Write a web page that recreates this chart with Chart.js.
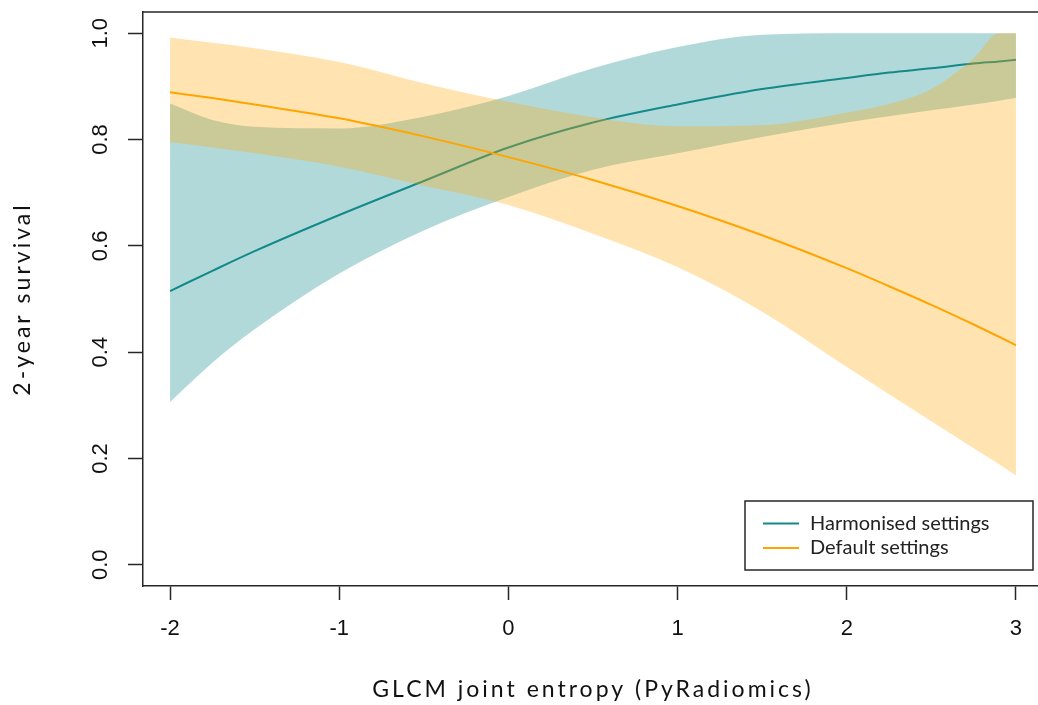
<!DOCTYPE html>
<html>
<head>
<meta charset="utf-8">
<script src="https://cdn.jsdelivr.net/npm/chart.js@4.4.1/dist/chart.umd.min.js"></script>
<style>
  html, body { margin: 0; padding: 0; background: #fff; overflow: hidden; }
  #wrap { width: 1050px; height: 705px; }
</style>
</head>
<body>
<div id="wrap"><canvas id="myChart" width="1050" height="705"></canvas></div>
<script>
// valores
const xs = [-2, -1.75, -1.5, -1, -0.5, 0, 0.5, 1, 1.5, 2, 2.25, 2.5, 2.75, 2.9, 3];

const harmMedia = [0.515, 0.553, 0.590, 0.658, 0.722, 0.785, 0.832, 0.866, 0.895, 0.916, 0.926, 0.934, 0.943, 0.947, 0.950];
const harmBajo  = [0.306, 0.380, 0.443, 0.548, 0.629, 0.692, 0.743, 0.774, 0.805, 0.832, 0.844, 0.855, 0.866, 0.873, 0.878];
const harmAlto  = [0.868, 0.837, 0.824, 0.821, 0.843, 0.882, 0.934, 0.974, 0.997, 1.0, 1.0, 1.0, 1.0, 1.0, 1.0];

const defMedia = [0.889, 0.878, 0.866, 0.840, 0.806, 0.767, 0.724, 0.675, 0.620, 0.558, 0.524, 0.489, 0.452, 0.429, 0.413];
const defBajo  = [0.795, 0.785, 0.774, 0.749, 0.713, 0.677, 0.623, 0.560, 0.476, 0.372, 0.321, 0.270, 0.219, 0.189, 0.168];
const defAlto  = [0.992, 0.982, 0.972, 0.946, 0.906, 0.871, 0.842, 0.825, 0.827, 0.851, 0.867, 0.895, 0.953, 1.0, 1.0];

const xTicks = [-2, -1, 0, 1, 2, 3];
const yTicks = [0, 0.2, 0.4, 0.6, 0.8, 1.0];
const etiquetas = ['Harmonised settings', 'Default settings'];

const colorTeal = '#138a8a';
const colorNaranja = '#ffa500';
const bandaTeal = 'rgba(0, 128, 128, 0.3)';
const bandaNaranja = 'rgba(255, 165, 0, 0.3)';
const colorMarco = '#262626';

function puntos(ys) {
    return xs.map((x, i) => ({ x: x, y: ys[i] }));
}

// los titulos del original salen estirados, se imita con letterSpacing
function espaciarTitulo(s) {
    if (s._espaciado) return;
    const orig = s.drawTitle;
    s.drawTitle = function () {
        this.ctx.save();
        this.ctx.letterSpacing = '3px';
        orig.call(this);
        this.ctx.restore();
    };
    s._espaciado = true;
}

// marco superior + leyenda estilo R
const marcoYLeyenda = {
    id: 'marcoYLeyenda',
    afterDraw(chart) {
        const ctx = chart.ctx;
        const area = chart.chartArea;
        ctx.save();
        ctx.strokeStyle = colorMarco;
        ctx.lineWidth = 1.5;
        ctx.beginPath();
        ctx.moveTo(area.left, area.top);
        ctx.lineTo(area.right, area.top);
        ctx.stroke();

        // leyenda
        const lx = 745, ly = 501, lw = 288, lh = 69;
        ctx.fillStyle = '#fff';
        ctx.fillRect(lx, ly, lw, lh);
        ctx.lineWidth = 1.5;
        ctx.strokeRect(lx, ly, lw, lh);
        const lineas = [chart.data.datasets[2], chart.data.datasets[5]];
        ctx.font = '20px Lato';
        ctx.textBaseline = 'middle';
        ctx.textAlign = 'left';
        for (let i = 0; i < lineas.length; i++) {
            const y = ly + 22.5 + i * 24.5;
            ctx.strokeStyle = lineas[i].borderColor;
            ctx.lineWidth = 2;
            ctx.beginPath();
            ctx.moveTo(763, y);
            ctx.lineTo(799, y);
            ctx.stroke();
            ctx.fillStyle = '#222';
            ctx.fillText(lineas[i].label, 810, y);
        }
        ctx.restore();
    }
};

const ctx = document.getElementById('myChart').getContext('2d');
const chart = new Chart(ctx, {
    type: 'line',
    data: {
        datasets: [{
            label: 'harm alto',
            data: puntos(harmAlto),
            borderColor: 'transparent',
            borderWidth: 0,
            backgroundColor: bandaTeal,
            fill: '+1',
            order: 5
        }, {
            label: 'harm bajo',
            data: puntos(harmBajo),
            borderColor: 'transparent',
            borderWidth: 0,
            fill: false,
            order: 4
        }, {
            label: etiquetas[0],
            data: puntos(harmMedia),
            borderColor: colorTeal,
            borderWidth: 2,
            fill: false,
            order: 3
        }, {
            label: 'def alto',
            data: puntos(defAlto),
            borderColor: 'transparent',
            borderWidth: 0,
            backgroundColor: bandaNaranja,
            fill: '+1',
            order: 2
        }, {
            label: 'def bajo',
            data: puntos(defBajo),
            borderColor: 'transparent',
            borderWidth: 0,
            fill: false,
            order: 1
        }, {
            label: etiquetas[1],
            data: puntos(defMedia),
            borderColor: colorNaranja,
            borderWidth: 2,
            fill: false,
            order: 0
        }]
    },
    options: {
        responsive: false,
        animation: false,
        layout: { padding: { top: 12, right: 7, left: 0, bottom: 0 } },
        elements: {
            point: { radius: 0, hoverRadius: 0 },
            line: { cubicInterpolationMode: 'monotone' }
        },
        plugins: {
            legend: { display: false },
            tooltip: { enabled: false },
            filler: { drawTime: 'beforeDatasetDraw' }
        },
        scales: {
            x: {
                type: 'linear',
                min: -2.16,
                max: 3.16,
                afterFit: s => {
                    s.height = 119;
                    s.paddingLeft = 0;
                    s.paddingRight = 0;
                    espaciarTitulo(s);
                },
                afterBuildTicks: s => { s.ticks = xTicks.map(v => ({ value: v })); },
                grid: { drawOnChartArea: false, drawTicks: true, tickLength: 14, tickColor: colorMarco, tickWidth: 1.5 },
                border: { display: true, color: colorMarco, width: 1.5 },
                ticks: {
                    padding: 16,
                    color: '#111',
                    font: { family: 'Liberation Sans', size: 22 },
                    callback: v => String(v)
                },
                title: {
                    display: true,
                    text: 'GLCM joint entropy (PyRadiomics)',
                    color: '#111',
                    font: { family: 'Lato', size: 23 },
                    padding: { top: 0, bottom: 2 }
                }
            },
            y: {
                type: 'linear',
                min: -0.04,
                max: 1.04,
                afterFit: s => {
                    s.width = 143;
                    s.paddingTop = 0;
                    s.paddingBottom = 0;
                    espaciarTitulo(s);
                },
                afterBuildTicks: s => { s.ticks = yTicks.map(v => ({ value: v })); },
                grid: { drawOnChartArea: false, drawTicks: true, tickLength: 15, tickColor: colorMarco, tickWidth: 1.5 },
                border: { display: true, color: colorMarco, width: 1.5 },
                ticks: {
                    minRotation: 90,
                    maxRotation: 90,
                    crossAlign: 'center',
                    padding: 12,
                    color: '#111',
                    font: { family: 'Liberation Sans', size: 22 },
                    callback: v => v.toFixed(1)
                },
                title: {
                    display: true,
                    text: '2-year survival',
                    color: '#111',
                    font: { family: 'Lato', size: 23 },
                    padding: { top: 9, bottom: 0 }
                }
            }
        }
    },
    plugins: [marcoYLeyenda]
});
</script>
</body>
</html>
